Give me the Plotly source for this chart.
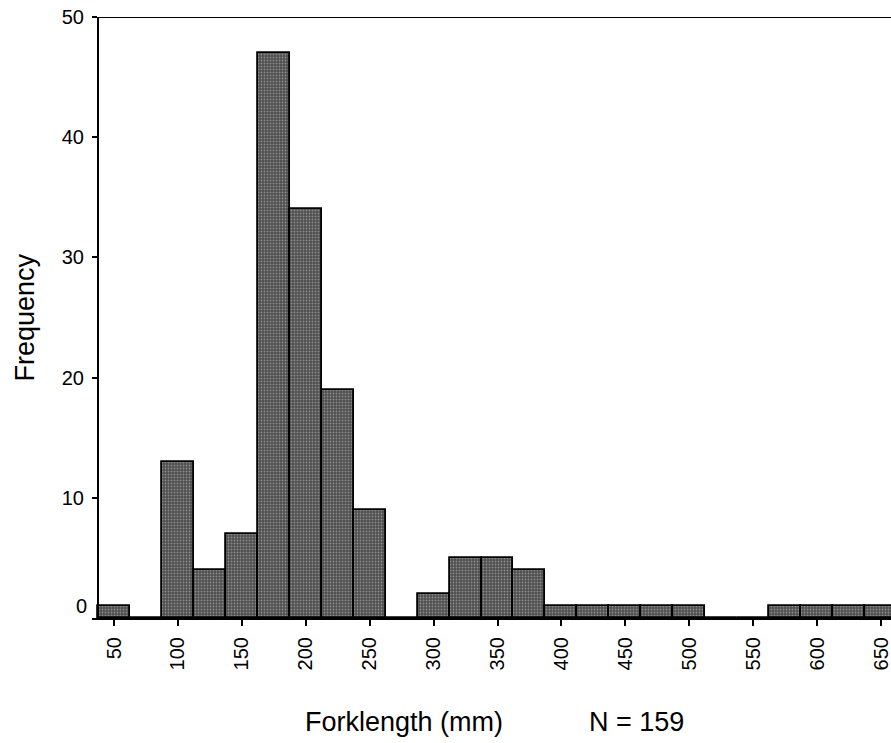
import plotly.graph_objects as go

# Fork length bins (mm, bin centres) and fish counts per bin
bin_centres = [50, 75, 100, 125, 150, 175, 200, 225, 250, 275, 300, 325, 350,
               375, 400, 425, 450, 475, 500, 525, 550, 575, 600, 625, 650]
counts = [1, 0, 13, 4, 7, 47, 34, 19, 9, 0, 2, 5, 5,
          4, 1, 1, 1, 1, 1, 0, 0, 1, 1, 1, 1]
bin_width = 25

x_ticks = [50, 100, 150, 200, 250, 300, 350, 400, 450, 500, 550, 600, 650]
y_ticks = [10, 20, 30, 40, 50]

x_title = "Forklength (mm)"
y_title = "Frequency"
n_label = "N = 159"

FONT = "Liberation Sans, Arial, sans-serif"
yaxis_pos = 0.0075  # y axis sits slightly right of the x axis start

fig = go.Figure()
fig.add_trace(go.Bar(
    x=bin_centres,
    y=counts,
    width=[bin_width] * len(bin_centres),
    marker=dict(
        color="#666666",
        line=dict(color="#000000", width=1.8),
        pattern=dict(shape=".", fgcolor="#c8c8c8", bgcolor="#4e4e4e",
                     size=3, solidity=0.3),
    ),
    showlegend=False,
))

fig.update_layout(
    width=891, height=743,
    margin=dict(l=92, r=0, t=17, b=125),
    paper_bgcolor="white", plot_bgcolor="white",
    font=dict(family=FONT, color="#000000"),
    bargap=0,
    xaxis=dict(
        range=[32.79, 657.82],
        tickvals=x_ticks,
        ticktext=[str(v) for v in x_ticks],
        tickangle=-90,
        tickfont=dict(size=20, family=FONT),
        ticklabeloverflow="allow",
        ticks="outside", ticklen=6, tickwidth=1.5, tickcolor="#000",
        ticklabelstandoff=3,
        showline=True, linecolor="#000", linewidth=2,
        showgrid=False, zeroline=False,
    ),
    yaxis=dict(
        range=[0, 50],
        anchor="free", position=yaxis_pos,
        tickvals=y_ticks,
        ticktext=[str(v) for v in y_ticks],
        tickfont=dict(size=20, family=FONT),
        ticks="outside", ticklen=5, tickwidth=1.5, tickcolor="#000",
        ticklabelstandoff=4,
        showline=True, linecolor="#000", linewidth=2,
        showgrid=False, zeroline=False,
    ),
)

# top frame line
fig.add_shape(type="line", xref="paper", yref="y",
              x0=yaxis_pos, x1=1, y0=50, y1=50,
              line=dict(color="#000", width=2))

# zero label, raised above the baseline
fig.add_annotation(text="0", xref="paper", yref="y", x=yaxis_pos, y=0,
                   xanchor="right", yanchor="middle", xshift=-9, yshift=12,
                   showarrow=False, font=dict(size=20, family=FONT))

fig.add_annotation(text=y_title, xref="paper", yref="paper",
                   x=(24 - 92) / 799, y=0.5, textangle=-90,
                   xanchor="center", yanchor="middle", showarrow=False,
                   font=dict(size=27, family=FONT))
fig.add_annotation(text=x_title, xref="paper", yref="paper",
                   x=(404 - 92) / 799, y=-(722 - 618) / 601,
                   xanchor="center", yanchor="middle", showarrow=False,
                   font=dict(size=27, family=FONT))
fig.add_annotation(text=n_label, xref="paper", yref="paper",
                   x=(636 - 92) / 799, y=-(722 - 618) / 601,
                   xanchor="center", yanchor="middle", showarrow=False,
                   font=dict(size=27, family=FONT))

fig.write_html("out.html")
